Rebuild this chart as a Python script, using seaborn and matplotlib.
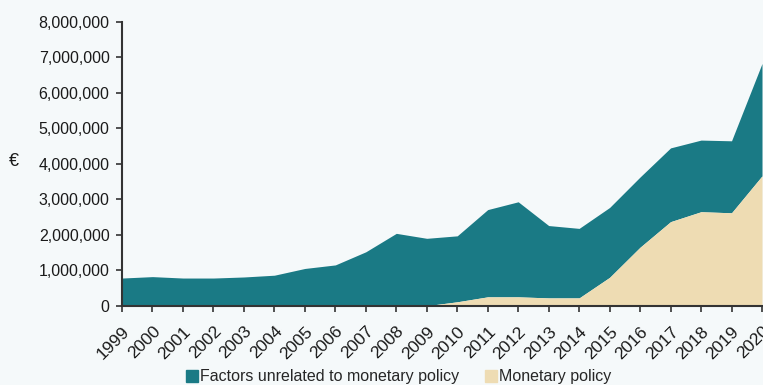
import matplotlib
matplotlib.use("Agg")
import matplotlib.pyplot as plt
from matplotlib.lines import Line2D
from matplotlib.ticker import FuncFormatter
import numpy as np
import pandas as pd
import seaborn as sns

years = list(range(1999, 2021))
total = [780000, 820000, 780000, 780000, 810000, 860000, 1050000, 1150000,
         1520000, 2040000, 1900000, 1970000, 2710000, 2930000, 2260000, 2180000,
         2770000, 3630000, 4450000, 4670000, 4650000, 6830000]
monetary = [0, 0, 0, 0, 0, 0, 0, 0, 0, 0, 0, 110000, 250000, 250000, 220000, 220000,
            800000, 1650000, 2370000, 2650000, 2620000, 3660000]
unrelated = [t - m for t, m in zip(total, monetary)]

labels = ["Factors unrelated to monetary policy", "Monetary policy"]
teal = "#1a7a85"
beige = "#eedcb3"
bg = "#f5f9fa"
ink = "#1a1a1a"

df = pd.DataFrame({"year": years, "monetary": monetary,
                   "stack": np.array(monetary) + np.array(unrelated)})

sns.set_style("ticks")
plt.rcParams["font.family"] = ["Liberation Sans", "DejaVu Sans"]

fig = plt.figure(figsize=(7.63, 3.85), dpi=100, facecolor=bg)
ax = fig.add_axes([122 / 763, (385 - 305.7) / 385, (762 - 122) / 763, (305.7 - 22) / 385])
ax.set_facecolor(bg)

sns.lineplot(data=df, x="year", y="stack", ax=ax, color=teal, linewidth=0)
sns.lineplot(data=df, x="year", y="monetary", ax=ax, color=beige, linewidth=0)
ax.fill_between(df["year"], df["monetary"], df["stack"], color=teal, linewidth=0)
ax.fill_between(df["year"], 0, df["monetary"], color=beige, linewidth=0)

ax.set_xlim(1999, 2020)
ax.set_ylim(0, 8000000)
ax.set_xticks(years)
ax.set_xticklabels([str(y) for y in years], rotation=45, ha="right",
                   rotation_mode="anchor", fontsize=12.5, color=ink)
ax.set_yticks(range(0, 8000001, 1000000))
ax.yaxis.set_major_formatter(FuncFormatter(lambda v, p: f"{int(v):,}"))
ax.tick_params(axis="y", labelsize=11.5, colors="#333333", labelcolor=ink,
               length=4, width=1.2, pad=5)
ax.tick_params(axis="x", colors="#333333", labelcolor=ink, length=4, width=1.2, pad=9)
ax.set_xlabel("")
ax.set_ylabel("")
sns.despine(ax=ax)
for s in ("left", "bottom"):
    ax.spines[s].set_color("#333333")
    ax.spines[s].set_linewidth(1.5)

fig.text(14 / 763, 1 - 162 / 385, "€", fontsize=13, ha="center", va="center",
         color=ink)

handles = [Line2D([], [], marker="s", linestyle="none", markersize=8.5,
                  markerfacecolor=c, markeredgecolor=c) for c in (teal, beige)]
fig.legend(handles, labels, loc="center", bbox_to_anchor=(398 / 763, 1 - 377 / 385),
           ncol=2, frameon=False, fontsize=11.5, handletextpad=0.0,
           columnspacing=1.6, handlelength=0.9)

fig.savefig("out.png", dpi=100, facecolor=bg)
